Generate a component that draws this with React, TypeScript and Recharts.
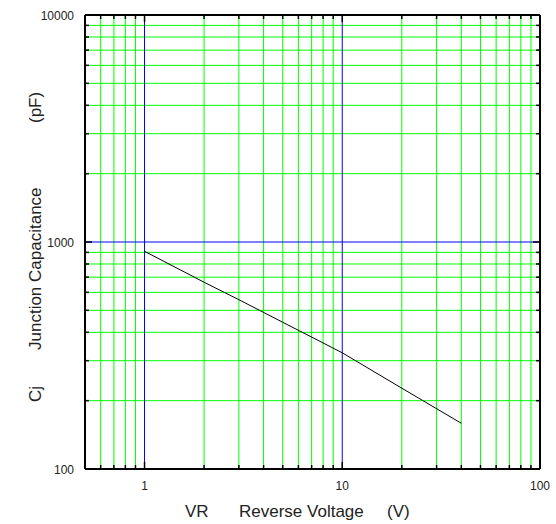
import { LineChart, Line, XAxis, YAxis, ReferenceLine, Label } from "recharts";

// Reverse voltage (V) vs junction capacitance (pF)
const vrValues = [1, 2, 3, 5, 10, 20, 40];
const cjValues = [910, 665, 557, 443, 325, 227, 159];

const xMinor = [0.6, 0.7, 0.8, 0.9, 2, 3, 4, 5, 6, 7, 8, 9, 20, 30, 40, 50, 60, 70, 80, 90];
const xMajor = [1, 10];
const xTicks = [0.6, 0.7, 0.8, 0.9, 1, 2, 3, 4, 5, 6, 7, 8, 9, 10, 20, 30, 40, 50, 60, 70, 80, 90, 100];
const xLabels = [1, 10, 100];

const yMinor = [200, 300, 400, 500, 600, 700, 800, 900, 2000, 3000, 4000, 5000, 6000, 7000, 8000, 9000];
const yMajor = [1000];
const yTicks = [100, 200, 300, 400, 500, 600, 700, 800, 900, 1000, 2000, 3000, 4000, 5000, 6000, 7000, 8000, 9000, 10000];
const yLabels = [100, 1000, 10000];

const data = vrValues.map((vr, i) => ({ vr, cj: cjValues[i] }));

const FONT = "'Liberation Sans', Arial, sans-serif";
const GREEN = "#00ff00";
const BLUE = "#0000ff";

// plot box size, used to mirror the tick marks onto the top / right edges
const PLOT_W = 455;
const PLOT_H = 454;

const tickLen = (v: number, majors: number[]) => (majors.includes(v) ? 7 : 4);

const BottomTick = (props: any) => {
  const { x, y, payload } = props;
  const v = payload.value;
  const len = tickLen(v, xMajor);
  return (
    <g>
      {v !== 100 && (
        <>
          <line x1={x} y1={y} x2={x} y2={y - len} stroke="#000" strokeWidth={1.5} />
          <line x1={x} y1={y - PLOT_H} x2={x} y2={y - PLOT_H + len} stroke="#000" strokeWidth={1.5} />
        </>
      )}
      {xLabels.includes(v) && (
        <text x={x} y={y + 21} textAnchor="middle" fontSize={12} fontFamily={FONT} fill="#222">
          {v}
        </text>
      )}
    </g>
  );
};

const LeftTick = (props: any) => {
  const { x, y, payload } = props;
  const v = payload.value;
  const len = tickLen(v, yMajor);
  return (
    <g>
      {v !== 100 && v !== 10000 && (
        <>
          <line x1={x} y1={y} x2={x + len} y2={y} stroke="#000" strokeWidth={1.5} />
          <line x1={x + PLOT_W} y1={y} x2={x + PLOT_W - len} y2={y} stroke="#000" strokeWidth={1.5} />
        </>
      )}
      {yLabels.includes(v) && (
        <text x={x - 11} y={y + 4.5} textAnchor="end" fontSize={12} fontFamily={FONT} fill="#222">
          {v}
        </text>
      )}
    </g>
  );
};

const XTitle = () => (
  <g fontFamily={FONT} fontSize={17} fill="#222">
    <text x={185} y={517}>VR</text>
    <text x={239} y={517}>Reverse Voltage</text>
    <text x={387} y={517}>(V)</text>
  </g>
);

const YTitle = () => (
  <g fontFamily={FONT} fontSize={17} fill="#222">
    <text x={41} y={402} transform="rotate(-90 41 402)">Cj</text>
    <text x={41} y={350} transform="rotate(-90 41 350)">Junction Capacitance</text>
    <text x={41} y={123} transform="rotate(-90 41 123)">(pF)</text>
  </g>
);

export default function App() {
  return (
    <div style={{ position: "absolute", left: 0, top: 0, background: "#fff" }}>
      <LineChart width={556} height={524} data={data} margin={{ top: 15, right: 16, bottom: 0, left: 0 }}>
        {xMinor.map((v) => (
          <ReferenceLine key={"xm" + v} x={v} stroke={GREEN} strokeWidth={1} />
        ))}
        {yMinor.map((v) => (
          <ReferenceLine key={"ym" + v} y={v} stroke={GREEN} strokeWidth={1} />
        ))}
        {xMajor.map((v) => (
          <ReferenceLine key={"xM" + v} x={v} stroke={BLUE} strokeWidth={1} />
        ))}
        {yMajor.map((v) => (
          <ReferenceLine key={"yM" + v} y={v} stroke={BLUE} strokeWidth={1} />
        ))}
        {/* top and right edges of the frame */}
        <ReferenceLine x={100} stroke="#000" strokeWidth={2} />
        <ReferenceLine y={10000} stroke="#000" strokeWidth={2} />
        <XAxis
          dataKey="vr"
          type="number"
          scale="log"
          domain={[0.5, 100]}
          allowDataOverflow
          ticks={xTicks}
          interval={0}
          height={55}
          tickSize={0}
          tickMargin={0}
          tickLine={false}
          axisLine={{ stroke: "#000", strokeWidth: 2 }}
          tick={<BottomTick />}
        >
          <Label content={<XTitle />} />
        </XAxis>
        <YAxis
          type="number"
          scale="log"
          domain={[100, 10000]}
          allowDataOverflow
          ticks={yTicks}
          interval={0}
          width={85}
          tickSize={0}
          tickMargin={0}
          tickLine={false}
          axisLine={{ stroke: "#000", strokeWidth: 2 }}
          tick={<LeftTick />}
        >
          <Label content={<YTitle />} />
        </YAxis>
        <Line
          dataKey="cj"
          type="linear"
          stroke="#000"
          strokeWidth={1}
          dot={false}
          activeDot={false}
          isAnimationActive={false}
        />
      </LineChart>
    </div>
  );
}
